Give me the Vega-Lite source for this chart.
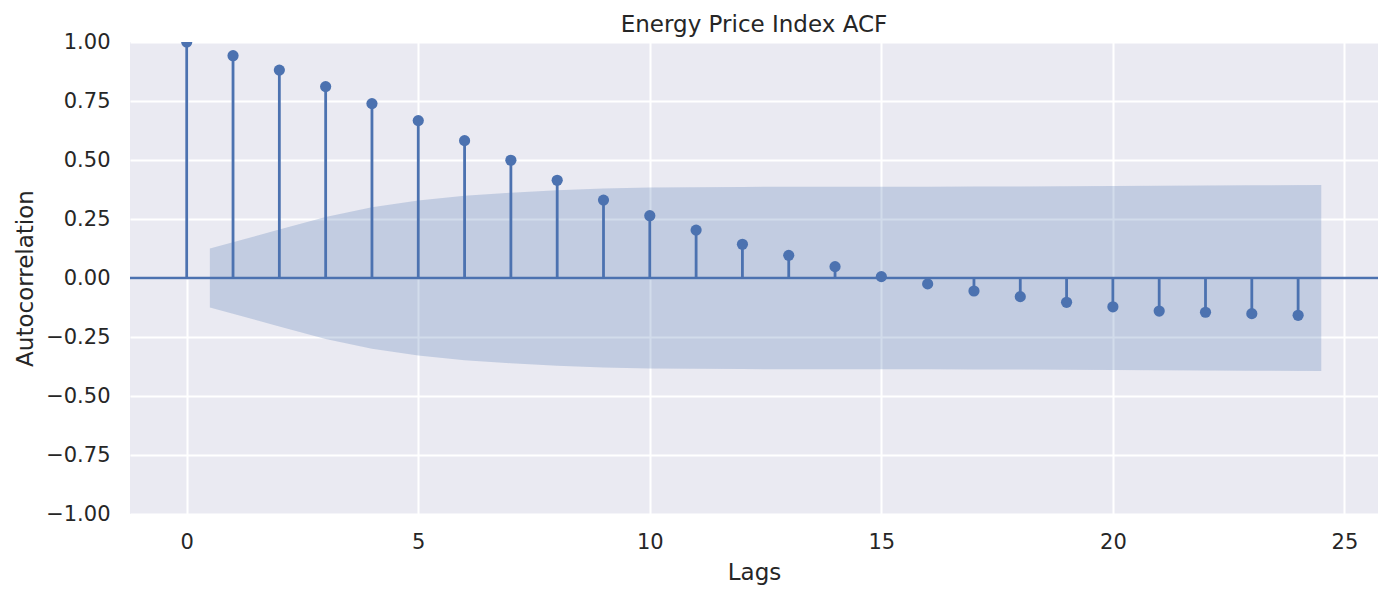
{
  "$schema": "https://vega.github.io/schema/vega-lite/v6.json",
  "autosize": "none",
  "width": 1248,
  "height": 472,
  "padding": {"left": 130, "top": 42, "right": 9, "bottom": 77},
  "background": "white",
  "title": {
    "text": "Energy Price Index ACF",
    "font": "DejaVu Sans",
    "fontSize": 23,
    "fontWeight": "normal",
    "color": "#262626",
    "anchor": "middle",
    "frame": "group",
    "baseline": "alphabetic",
    "offset": -24
  },
  "config": {
    "view": {"fill": "#EAEAF2", "stroke": null},
    "axis": {
      "domain": false,
      "ticks": false,
      "tickSize": 0,
      "grid": true,
      "gridColor": "#FFFFFF",
      "gridWidth": 2,
      "labelFont": "DejaVu Sans",
      "labelFontSize": 21,
      "labelColor": "#262626",
      "labelFlush": false,
      "labelOverlap": false,
      "labelBound": false,
      "titleFont": "DejaVu Sans",
      "titleFontSize": 23,
      "titleFontWeight": "normal",
      "titleColor": "#262626"
    }
  },
  "datasets": {
    "acf": [
      {"lag": 0, "acf": 1.0},
      {"lag": 1, "acf": 0.942},
      {"lag": 2, "acf": 0.881},
      {"lag": 3, "acf": 0.811},
      {"lag": 4, "acf": 0.739},
      {"lag": 5, "acf": 0.667},
      {"lag": 6, "acf": 0.582},
      {"lag": 7, "acf": 0.499},
      {"lag": 8, "acf": 0.414},
      {"lag": 9, "acf": 0.330},
      {"lag": 10, "acf": 0.264},
      {"lag": 11, "acf": 0.203},
      {"lag": 12, "acf": 0.143},
      {"lag": 13, "acf": 0.096},
      {"lag": 14, "acf": 0.048},
      {"lag": 15, "acf": 0.006},
      {"lag": 16, "acf": -0.025},
      {"lag": 17, "acf": -0.055},
      {"lag": 18, "acf": -0.079},
      {"lag": 19, "acf": -0.103},
      {"lag": 20, "acf": -0.122},
      {"lag": 21, "acf": -0.140},
      {"lag": 22, "acf": -0.145},
      {"lag": 23, "acf": -0.151},
      {"lag": 24, "acf": -0.158}
    ],
    "band": [
      {"lag": 0.5, "lower": -0.125, "upper": 0.125},
      {"lag": 2, "lower": -0.205, "upper": 0.205},
      {"lag": 3, "lower": -0.258, "upper": 0.258},
      {"lag": 4, "lower": -0.300, "upper": 0.300},
      {"lag": 5, "lower": -0.328, "upper": 0.328},
      {"lag": 6, "lower": -0.348, "upper": 0.348},
      {"lag": 7, "lower": -0.361, "upper": 0.361},
      {"lag": 8, "lower": -0.372, "upper": 0.372},
      {"lag": 9, "lower": -0.379, "upper": 0.379},
      {"lag": 10, "lower": -0.383, "upper": 0.383},
      {"lag": 11, "lower": -0.385, "upper": 0.385},
      {"lag": 12, "lower": -0.386, "upper": 0.386},
      {"lag": 13, "lower": -0.387, "upper": 0.387},
      {"lag": 14, "lower": -0.387, "upper": 0.387},
      {"lag": 15, "lower": -0.387, "upper": 0.387},
      {"lag": 16, "lower": -0.387, "upper": 0.387},
      {"lag": 17, "lower": -0.388, "upper": 0.388},
      {"lag": 18, "lower": -0.388, "upper": 0.388},
      {"lag": 19, "lower": -0.389, "upper": 0.389},
      {"lag": 20, "lower": -0.390, "upper": 0.390},
      {"lag": 21, "lower": -0.391, "upper": 0.391},
      {"lag": 22, "lower": -0.392, "upper": 0.392},
      {"lag": 23, "lower": -0.393, "upper": 0.393},
      {"lag": 24.5, "lower": -0.394, "upper": 0.394}
    ]
  },
  "layer": [
    {
      "data": {"name": "band"},
      "mark": {"type": "area", "color": "#4C72B0", "opacity": 0.25},
      "encoding": {
        "x": {
          "field": "lag",
          "type": "quantitative",
          "scale": {"domain": [-1.225, 25.725], "nice": false, "zero": false},
          "axis": {
            "values": [0, 5, 10, 15, 20, 25],
            "format": "d",
            "labelPadding": 17,
            "title": "Lags",
            "titlePadding": 9
          }
        },
        "y": {
          "field": "lower",
          "type": "quantitative",
          "scale": {"domain": [-1, 1], "nice": false, "zero": false},
          "axis": {
            "values": [-1, -0.75, -0.5, -0.25, 0, 0.25, 0.5, 0.75, 1],
            "format": ".2f",
            "labelPadding": 20,
            "title": "Autocorrelation",
            "titlePadding": 8
          }
        },
        "y2": {"field": "upper"}
      }
    },
    {
      "data": {"values": [{}]},
      "mark": {"type": "rule", "color": "#4C72B0", "strokeWidth": 2.6},
      "encoding": {"y": {"datum": 0, "type": "quantitative"}}
    },
    {
      "data": {"name": "acf"},
      "mark": {"type": "rule", "color": "#4C72B0", "strokeWidth": 2.8},
      "encoding": {
        "x": {"field": "lag", "type": "quantitative"},
        "y": {"field": "acf", "type": "quantitative"},
        "y2": {"datum": 0}
      }
    },
    {
      "data": {"name": "acf"},
      "mark": {"type": "circle", "color": "#4C72B0", "opacity": 1, "size": 125, "clip": true},
      "encoding": {
        "x": {"field": "lag", "type": "quantitative"},
        "y": {"field": "acf", "type": "quantitative"}
      }
    }
  ]
}
